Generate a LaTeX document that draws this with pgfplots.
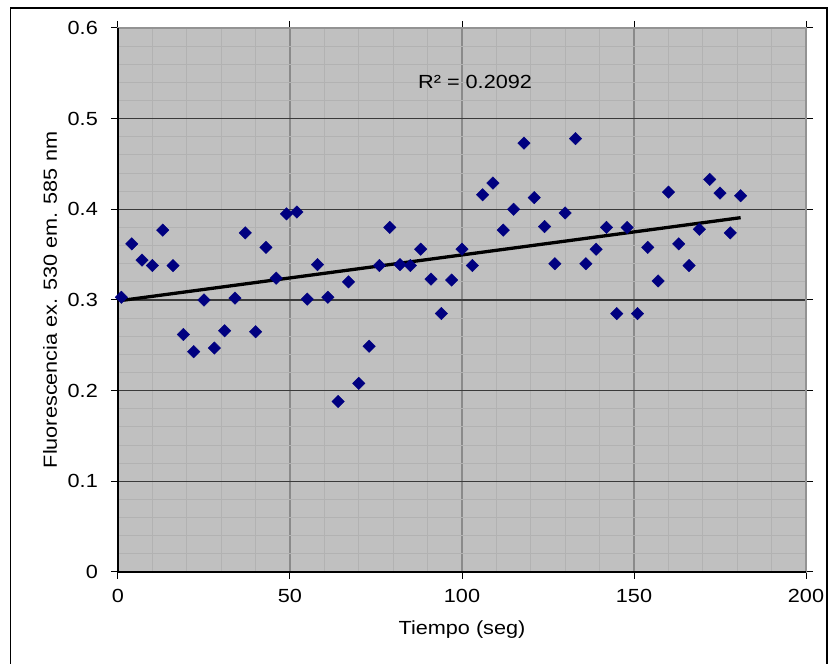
\documentclass[border=0pt]{standalone}
\usepackage{fontspec}
\setmainfont{Liberation Sans}[FakeStretch=1.14]
\usepackage{pgfplots}
\pgfplotsset{compat=1.18}
\definecolor{plotbg}{HTML}{C0C0C0}
\definecolor{marknavy}{HTML}{000080}
\definecolor{minorgrid}{HTML}{B2B2B2}
\definecolor{vmajor}{HTML}{8A8A8A}
\definecolor{hmajor}{HTML}{3A3A3A}
\begin{document}
\fontsize{19}{23}\selectfont
\begin{tikzpicture}
\useasboundingbox (-118pt,-92pt) rectangle (718pt,572pt);
\draw[line width=1.3pt] (-107.5pt,-96pt) -- (-107.5pt,564pt) -- (709pt,564pt) -- (709pt,-96pt);
\begin{axis}[
  scale only axis, width=688pt, height=544pt,
  at={(0,0)}, anchor=south west,
  xmin=0, xmax=200, ymin=0, ymax=0.6,
  xtick={0,50,100,150,200},
  ytick={0,0.1,0.2,0.3,0.4,0.5,0.6},
  minor x tick num=4, minor y tick num=4,
  grid=both,
  major x grid style={vmajor, line width=1.2pt},
  major y grid style={hmajor, line width=1.1pt},
  minor grid style={minorgrid, line width=0.9pt},
  axis background/.style={fill=plotbg},
  axis line style={draw=gray!85, line width=1.4pt},
  tick align=outside, major tick length=7pt, minor tick length=0pt,
  tick style={black, line width=1pt},
  /pgf/number format/assume math mode=true,
  scaled y ticks=false,
  yticklabel style={/pgf/number format/fixed, inner sep=0pt, anchor=east},
  xticklabel style={inner sep=0pt, anchor=north},
  xticklabel shift=10pt, yticklabel shift=13pt,
  ticklabel style={font=\fontsize{19}{23}\selectfont},
  xlabel={Tiempo (seg)},
  ylabel={Fluorescencia ex. 530 em. 585 nm},
  every axis x label/.style={at={(axis description cs:0.5,-0.1066)}, anchor=center, font=\fontsize{19}{23}\selectfont},
  every axis y label/.style={at={(axis description cs:-0.0988,0.5)}, rotate=90, anchor=center, font=\fontsize{19}{23}\selectfont},
  clip=false,
]
\addplot[only marks, mark=square*, mark size=4.4pt, mark options={rotate=45, fill=marknavy, draw=marknavy}] coordinates {
(1,0.303) (4,0.362) (7,0.344) (10,0.338) (13,0.377) (16,0.338) (19,0.262) (22,0.243) (25,0.300) (28,0.247)
(31,0.266) (34,0.302) (37,0.374) (40,0.265) (43,0.358) (46,0.324) (49,0.395) (52,0.397) (55,0.301) (58,0.339)
(61,0.303) (64,0.188) (67,0.320) (70,0.208) (73,0.249) (76,0.338) (79,0.380) (82,0.339) (85,0.338) (88,0.356)
(91,0.323) (94,0.285) (97,0.322) (100,0.356) (103,0.338) (106,0.416) (109,0.429) (112,0.377) (115,0.400) (118,0.473)
(121,0.413) (124,0.381) (127,0.340) (130,0.396) (133,0.478) (136,0.340) (139,0.356) (142,0.380) (145,0.285) (148,0.380)
(151,0.285) (154,0.358) (157,0.321) (160,0.419) (163,0.362) (166,0.338) (169,0.378) (172,0.433) (175,0.418) (178,0.374)
(181,0.415)
};
\addplot[black, line width=3.3pt, no marks] coordinates {(1,0.2995) (181,0.3908)};
\draw[black, line width=1.5pt] (rel axis cs:0,1) -- (rel axis cs:0,0) -- (rel axis cs:1,0);
\node at (axis cs:103.8,0.54) {R² = 0.2092};
\end{axis}
\end{tikzpicture}
\end{document}
